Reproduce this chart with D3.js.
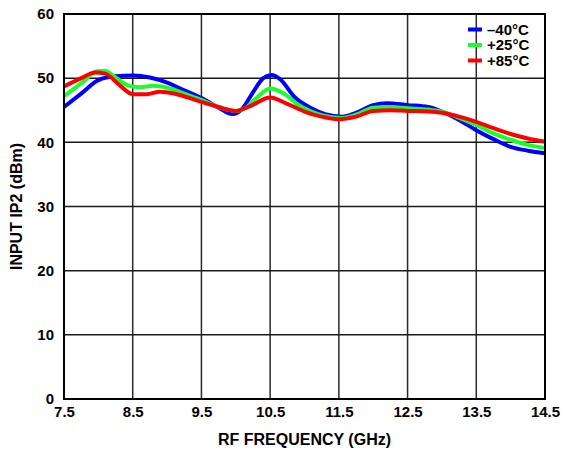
<!DOCTYPE html>
<html>
<head>
<meta charset="utf-8">
<script src="https://cdn.jsdelivr.net/npm/d3@7"></script>
<style>
	body { margin: 0; background: #fff; }
	text { font-family: "Liberation Sans", Arial, sans-serif; font-weight: bold; }
</style>
</head>
<body>
<div id="chart"></div>
<script>
var margin = {top: 14, right: 16, bottom: 53, left: 64};
var width = 561, height = 452;

var xTicks = [7.5, 8.5, 9.5, 10.5, 11.5, 12.5, 13.5, 14.5];
var yTicks = [0, 10, 20, 30, 40, 50, 60];

var freqBlue = [7.5, 7.75, 8.0, 8.25, 8.5, 8.75, 9.0, 9.25, 9.5, 9.75, 9.95, 10.1, 10.25, 10.4, 10.52, 10.65, 10.85, 11.1, 11.3, 11.55, 11.75, 12.0, 12.2, 12.5, 12.8, 13.0, 13.25, 13.5, 13.75, 14.0, 14.25, 14.5];
var ip2Blue = [45.5, 47.6, 49.7, 50.3, 50.4, 50.1, 49.3, 48.1, 46.9, 45.4, 44.4, 45.3, 47.8, 50.0, 50.5, 49.8, 47.1, 45.3, 44.4, 44.0, 44.6, 45.8, 46.1, 45.8, 45.5, 44.8, 43.5, 41.9, 40.5, 39.3, 38.7, 38.3];

var freqGreen = [7.5, 7.75, 8.0, 8.1, 8.25, 8.45, 8.6, 8.8, 9.0, 9.25, 9.5, 9.75, 10.0, 10.15, 10.3, 10.5, 10.7, 10.9, 11.1, 11.3, 11.55, 11.75, 12.0, 12.25, 12.5, 12.8, 13.0, 13.25, 13.5, 13.75, 14.0, 14.25, 14.5];
var ip2Green = [47.2, 49.2, 51.1, 51.1, 50.1, 48.8, 48.6, 48.8, 48.5, 47.6, 46.6, 45.5, 44.9, 45.4, 46.9, 48.4, 47.6, 45.9, 44.8, 44.1, 43.8, 44.3, 45.4, 45.5, 45.3, 45.1, 44.8, 43.8, 42.7, 41.4, 40.4, 39.6, 39.1];

var freqRed = [7.5, 7.75, 7.95, 8.1, 8.3, 8.5, 8.7, 8.9, 9.1, 9.3, 9.5, 9.75, 10.0, 10.2, 10.5, 10.75, 11.0, 11.25, 11.5, 11.75, 12.0, 12.25, 12.5, 12.8, 13.0, 13.25, 13.5, 13.75, 14.0, 14.25, 14.5];
var ip2Red = [48.7, 50.0, 50.9, 50.7, 49.0, 47.5, 47.5, 47.9, 47.6, 47.0, 46.3, 45.5, 44.9, 45.6, 47.0, 46.0, 44.8, 44.0, 43.6, 44.0, 44.9, 45.0, 44.9, 44.8, 44.6, 44.0, 43.2, 42.2, 41.3, 40.6, 40.1];

var seriesNames = ["\u201340\u00b0C", "+25\u00b0C", "+85\u00b0C"];
var seriesColors = ["#0000ff", "#1aff2a", "#ff0000"];

var series = [
	{name: seriesNames[0], color: seriesColors[0], values: d3.zip(freqBlue, ip2Blue)},
	{name: seriesNames[1], color: seriesColors[1], values: d3.zip(freqGreen, ip2Green)},
	{name: seriesNames[2], color: seriesColors[2], values: d3.zip(freqRed, ip2Red)}
];

var svg = d3.select("#chart").append("svg")
	.attr("width", width)
	.attr("height", height);

var x = d3.scaleLinear([7.5, 14.5], [margin.left, width - margin.right]);
var y = d3.scaleLinear([0, 60], [height - margin.bottom, margin.top]);

// grid
svg.append("g")
	.selectAll("line")
	.data(xTicks.slice(1, -1))
	.join("line")
	.attr("x1", d => x(d)).attr("x2", d => x(d))
	.attr("y1", y(0)).attr("y2", y(60))
	.attr("stroke", "#2a2a2a").attr("stroke-width", 1.5);

svg.append("g")
	.selectAll("line")
	.data(yTicks.slice(1, -1))
	.join("line")
	.attr("y1", d => y(d)).attr("y2", d => y(d))
	.attr("x1", x(7.5)).attr("x2", x(14.5))
	.attr("stroke", "#1a1a1a").attr("stroke-width", 1.5);

// curves
var line = d3.line()
	.x(d => x(d[0]))
	.y(d => y(d[1]))
	.curve(d3.curveMonotoneX);

svg.append("g")
	.selectAll("path")
	.data(series)
	.join("path")
	.attr("fill", "none")
	.attr("stroke", d => d.color)
	.attr("stroke-width", 4)
	.attr("stroke-linejoin", "round")
	.attr("d", d => line(d.values));

// frame
svg.append("rect")
	.attr("x", x(7.5)).attr("y", y(60))
	.attr("width", x(14.5) - x(7.5))
	.attr("height", y(0) - y(60))
	.attr("fill", "none")
	.attr("stroke", "#000")
	.attr("stroke-width", 2);

// axes
var xAxis = svg.append("g")
	.attr("transform", `translate(0,${y(0)})`)
	.call(d3.axisBottom(x).tickValues(xTicks).tickSize(0).tickPadding(7).tickFormat(d3.format(".1f")));
xAxis.select(".domain").remove();
xAxis.selectAll("text").attr("font-size", 15).attr("fill", "#000")
	.attr("font-family", "'Liberation Sans', Arial, sans-serif").attr("font-weight", "bold");

var yAxis = svg.append("g")
	.attr("transform", `translate(${x(7.5)},0)`)
	.call(d3.axisLeft(y).tickValues(yTicks).tickSize(0).tickPadding(10));
yAxis.select(".domain").remove();
yAxis.selectAll("text").attr("font-size", 15).attr("fill", "#000")
	.attr("font-family", "'Liberation Sans', Arial, sans-serif").attr("font-weight", "bold");

// axis titles
svg.append("text")
	.attr("x", (x(7.5) + x(14.5)) / 2)
	.attr("y", 445)
	.attr("text-anchor", "middle")
	.attr("font-size", 16)
	.text("RF FREQUENCY (GHz)");

svg.append("text")
	.attr("transform", `translate(22,${(y(0) + y(60)) / 2}) rotate(-90)`)
	.attr("text-anchor", "middle")
	.attr("font-size", 16)
	.text("INPUT IP2 (dBm)");

// legend
var legend = svg.append("g")
	.selectAll("g")
	.data(series)
	.join("g")
	.attr("transform", (d, i) => `translate(468,${29.5 + i * 15.5})`);

legend.append("line")
	.attr("x1", 0).attr("x2", 14)
	.attr("stroke", d => d.color)
	.attr("stroke-width", 4);

legend.append("text")
	.attr("x", 19)
	.attr("dy", "0.36em")
	.attr("font-size", 15)
	.text(d => d.name);
</script>
</body>
</html>
